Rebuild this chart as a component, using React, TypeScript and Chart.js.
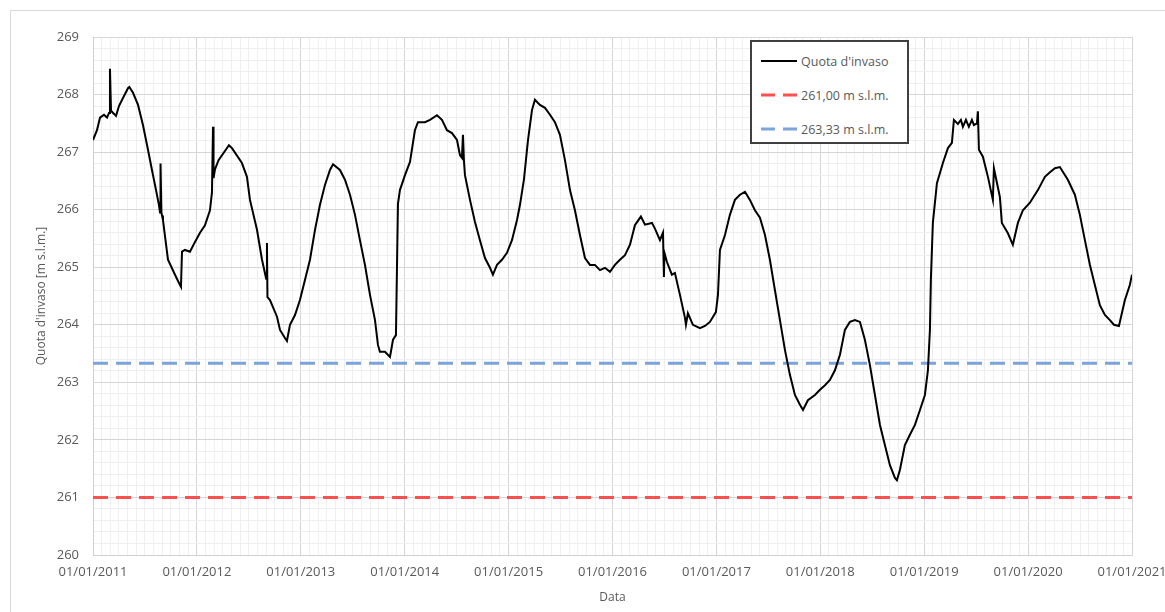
import React, { useEffect, useRef } from "react";
import { Chart, registerables } from "chart.js";

Chart.register(...registerables);

// months elapsed since 01/01/2011
const months: number[] = [
  0, 0.46, 0.81, 1.27, 1.62, 1.85, 1.96, 2.08, 2.19, 2.66, 3.0, 3.46, 4.04, 4.2, 4.62, 5.2, 5.77, 6.35, 6.81, 7.28,
  7.62, 7.74, 7.8, 7.9, 7.97, 8.08, 8.66, 9.47, 10.05, 10.16, 10.28, 10.62, 11.2, 11.78, 12.36, 12.93, 13.51, 13.74,
  13.86, 13.92, 14.09, 14.5, 15.7, 16.05, 17.2, 17.78, 18.13, 18.94, 19.52, 20.0, 20.09, 20.15, 20.44, 21.25, 21.6,
  22.17, 22.4, 22.75, 23.33, 23.9, 24.48, 25.06, 25.64, 26.21, 26.79, 27.37, 27.72, 28.52, 29.1, 29.68, 30.26, 30.83,
  31.41, 31.99, 32.57, 32.91, 33.14, 33.72, 34.3, 34.65, 34.99, 35.22, 35.45, 36.03, 36.61, 37.18, 37.53, 38.34,
  38.92, 39.73, 40.3, 40.88, 41.46, 42.04, 42.38, 42.61, 42.73, 42.84, 42.96, 43.54, 44.11, 44.69, 45.27, 45.85,
  46.19, 46.66, 47.23, 47.81, 48.39, 48.97, 49.31, 49.77, 50.24, 50.7, 51.04, 51.62, 52.2, 52.78, 53.35, 53.93,
  54.51, 55.09, 55.66, 56.24, 56.82, 57.4, 57.97, 58.55, 59.13, 59.71, 60.28, 60.86, 61.44, 62.02, 62.59, 63.28,
  63.75, 64.56, 64.9, 65.48, 65.83, 65.94, 66.0, 66.29, 66.86, 67.21, 67.79, 68.37, 68.48, 68.71, 69.29, 70.1,
  70.68, 71.25, 71.94, 72.18, 72.41, 72.99, 73.56, 74.14, 74.72, 75.3, 75.87, 76.45, 77.03, 77.61, 78.18, 78.76,
  79.34, 79.92, 80.49, 81.07, 81.65, 82.0, 82.57, 83.38, 83.96, 84.54, 85.11, 85.69, 86.27, 86.84, 87.42, 88.0,
  88.58, 89.15, 89.73, 90.31, 90.89, 91.46, 92.04, 92.62, 92.85, 93.2, 93.77, 94.35, 94.93, 95.51, 96.08, 96.43,
  96.66, 96.77, 97.0, 97.47, 98.16, 98.74, 99.2, 99.43, 99.89, 100.24, 100.47, 100.82, 101.16, 101.51, 101.74,
  102.09, 102.2, 102.32, 102.78, 103.36, 103.93, 104.05, 104.74, 104.97, 105.67, 106.24, 106.82, 107.4, 108.21,
  109.13, 109.94, 110.52, 111.1, 111.67, 112.59, 113.4, 113.98, 114.56, 115.14, 115.71, 116.29, 116.87, 117.45,
  117.91, 118.49, 119.18, 119.75, 120,
];

// reservoir level (m s.l.m.)
const levels: number[] = [
  267.21, 267.38, 267.6, 267.65, 267.6, 267.68, 268.45, 267.72, 267.7, 267.63, 267.8, 267.94, 268.11, 268.13, 268.03,
  267.82, 267.47, 267.04, 266.69, 266.34, 266.08, 265.95, 266.8, 265.95, 265.9, 265.82, 265.13, 264.87, 264.69,
  264.66, 265.27, 265.3, 265.27, 265.44, 265.6, 265.73, 265.99, 266.3, 267.44, 266.55, 266.7, 266.86, 267.12, 267.07,
  266.81, 266.57, 266.17, 265.65, 265.13, 264.8, 265.42, 264.48, 264.43, 264.14, 263.91, 263.77, 263.72, 264.0,
  264.17, 264.43, 264.78, 265.13, 265.65, 266.08, 266.43, 266.69, 266.79, 266.69, 266.52, 266.26, 265.91, 265.47,
  265.04, 264.52, 264.08, 263.65, 263.53, 263.53, 263.44, 263.74, 263.82, 266.1, 266.34, 266.6, 266.83, 267.38,
  267.52, 267.52, 267.56, 267.64, 267.56, 267.38, 267.33, 267.21, 266.95, 266.9, 267.3, 266.85, 266.6, 266.17,
  265.79, 265.47, 265.16, 264.99, 264.87, 265.04, 265.13, 265.25, 265.47, 265.82, 266.08, 266.52, 267.21, 267.73,
  267.91, 267.82, 267.77, 267.65, 267.52, 267.3, 266.86, 266.34, 265.99, 265.56, 265.16, 265.04, 265.04, 264.95,
  264.99, 264.92, 265.04, 265.13, 265.21, 265.39, 265.73, 265.88, 265.74, 265.77, 265.67, 265.47, 265.6, 264.83,
  265.25, 265.09, 264.87, 264.9, 264.52, 264.12, 264.0, 264.2, 264.0, 263.94, 263.98, 264.05, 264.22, 264.52, 265.3,
  265.56, 265.91, 266.17, 266.26, 266.31, 266.17, 265.99, 265.86, 265.56, 265.13, 264.6, 264.08, 263.56, 263.13,
  262.78, 262.61, 262.52, 262.69, 262.78, 262.87, 262.95, 263.04, 263.21, 263.48, 263.91, 264.05, 264.08, 264.05,
  263.74, 263.3, 262.78, 262.26, 261.91, 261.56, 261.34, 261.3, 261.48, 261.91, 262.09, 262.26, 262.52, 262.78,
  263.21, 263.91, 264.78, 265.77, 266.46, 266.81, 267.07, 267.16, 267.56, 267.49, 267.56, 267.44, 267.56, 267.44,
  267.56, 267.47, 267.5, 267.71, 267.04, 266.92, 266.57, 266.17, 266.72, 266.22, 265.77, 265.59, 265.39, 265.77,
  265.99, 266.12, 266.34, 266.57, 266.65, 266.72, 266.74, 266.52, 266.26, 265.91, 265.47, 265.04, 264.69, 264.34,
  264.17, 264.08, 264.0, 263.98, 264.43, 264.69, 264.87,
];

const thresholdLow = 261.0;
const thresholdHigh = 263.33;
const seriesNames: string[] = ["Quota d'invaso", "261,00 m s.l.m.", "263,33 m s.l.m."];
const startYear = 2011;
const yearCount = 10;

const FONT = "'Open Sans', 'Liberation Sans', sans-serif";
const TEXT = "#595959";
const RED = "#ff5050";
const BLUE = "#7ba3dc";

export default function App() {
  const ref = useRef<HTMLCanvasElement | null>(null);

  useEffect(() => {
    if (!ref.current) return;
    const totalMonths = yearCount * 12;
    const chart = new Chart(ref.current, {
      type: "line",
      data: {
        datasets: [
          {
            label: seriesNames[0],
            data: months.map((m, i) => ({ x: m, y: levels[i] })),
            borderColor: "#000000",
            borderWidth: 2,
            pointRadius: 0,
            tension: 0,
            order: 0,
          },
          {
            label: seriesNames[1],
            data: [
              { x: 0, y: thresholdLow },
              { x: totalMonths, y: thresholdLow },
            ],
            borderColor: RED,
            borderWidth: 3,
            borderDash: [15, 8],
            pointRadius: 0,
            order: 1,
          },
          {
            label: seriesNames[2],
            data: [
              { x: 0, y: thresholdHigh },
              { x: totalMonths, y: thresholdHigh },
            ],
            borderColor: BLUE,
            borderWidth: 3,
            borderDash: [15, 8],
            pointRadius: 0,
            order: 1,
          },
        ],
      },
      options: {
        responsive: false,
        animation: false,
        layout: { padding: { top: 37, right: 33, left: 0, bottom: 0 } },
        plugins: { legend: { display: false }, tooltip: { enabled: false } },
        scales: {
          x: {
            type: "linear",
            min: 0,
            max: totalMonths,
            afterFit: (s: any) => {
              s.height = 57;
              s.paddingLeft = 0;
              s.paddingRight = 0;
            },
            border: { color: "#d0d0d0" },
            grid: {
              drawTicks: false,
              color: (ctx: any) =>
                ctx.tick && ctx.tick.value % 12 === 0 ? "#d6d6d6" : "#efefef",
            },
            ticks: {
              stepSize: 1,
              autoSkip: false,
              maxTicksLimit: 1000,
              maxRotation: 0,
              padding: 9,
              color: TEXT,
              font: { family: FONT, size: 13 },
              callback: (v: any) => {
                const n = Math.round(Number(v));
                return n % 12 === 0 ? `01/01/${startYear + n / 12}` : "";
              },
            },
            title: {
              display: true,
              text: "Data",
              color: TEXT,
              font: { family: FONT, size: 12 },
              padding: { top: 0, bottom: 7 },
            },
          },
          y: {
            min: 260,
            max: 269,
            afterFit: (s: any) => {
              s.width = 93;
              s.paddingTop = 0;
              s.paddingBottom = 0;
            },
            border: { color: "#d0d0d0" },
            grid: {
              drawTicks: false,
              color: (ctx: any) => {
                const v = ctx.tick ? ctx.tick.value : 0;
                return Math.abs(v - Math.round(v)) < 1e-6 ? "#d6d6d6" : "#efefef";
              },
            },
            ticks: {
              stepSize: 0.2,
              autoSkip: false,
              maxTicksLimit: 1000,
              padding: 14,
              color: TEXT,
              font: { family: FONT, size: 13 },
              callback: (v: any) => {
                const n = Number(v);
                return Math.abs(n - Math.round(n)) < 1e-6 ? String(Math.round(n)) : "";
              },
            },
            title: {
              display: true,
              text: "Quota d'invaso [m s.l.m.]",
              color: TEXT,
              font: { family: FONT, size: 12 },
              padding: { top: 34, bottom: 0 },
            },
          },
        },
      },
    });
    return () => chart.destroy();
  }, []);

  const legendRow = (label: string, color: string, dashed: boolean, top: number) => (
    <div
      key={label}
      style={{ position: "absolute", left: 0, top, height: 20, width: "100%", display: "flex", alignItems: "center" }}
    >
      <svg width={36} height={6} style={{ marginLeft: 9, display: "block" }}>
        <line
          x1={0}
          y1={3}
          x2={36}
          y2={3}
          stroke={color}
          strokeWidth={dashed ? 3 : 2}
          strokeDasharray={dashed ? "14 8" : undefined}
        />
      </svg>
      <span style={{ marginLeft: 4, fontFamily: FONT, fontSize: 12.5, color: TEXT, whiteSpace: "nowrap" }}>
        {label}
      </span>
    </div>
  );

  return (
    <div style={{ position: "fixed", left: 0, top: 0, width: 1165, height: 612, background: "#fff", overflow: "hidden" }}>
      <div
        style={{
          position: "absolute",
          left: 10,
          top: 10,
          width: 1300,
          height: 800,
          border: "1px solid #d9d9d9",
        }}
      />
      <canvas ref={ref} width={1165} height={612} style={{ position: "absolute", left: 0, top: 0 }} />
      <div
        style={{
          position: "absolute",
          left: 750,
          top: 40,
          width: 155,
          height: 100,
          border: "2px solid #404040",
          background: "#fff",
        }}
      >
        {legendRow(seriesNames[0], "#000", false, 9)}
        {legendRow(seriesNames[1], RED, true, 43)}
        {legendRow(seriesNames[2], BLUE, true, 77)}
      </div>
    </div>
  );
}
